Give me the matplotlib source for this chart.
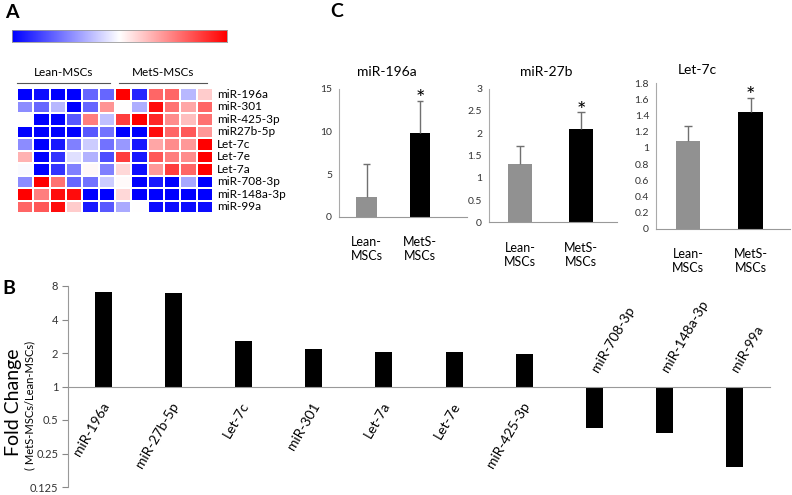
import numpy as np
import matplotlib
matplotlib.use('Agg')
import matplotlib.pyplot as plt
from matplotlib.colors import LinearSegmentedColormap
from matplotlib.lines import Line2D

plt.rcParams['font.family'] = ['Lato', 'DejaVu Sans']

# panel A: heatmap (scaled expression, -1 blue .. +1 red)
mirnas_heat = ['miR-196a', 'miR-301', 'miR-425-3p', 'miR27b-5p', 'Let-7c',
               'Let-7e', 'Let-7a', 'miR-708-3p', 'miR-148a-3p', 'miR-99a']
heat = np.array([
    [-1.0, -0.95, -1.0, -1.0, -0.6, -0.6, 1.0, -0.85, 0.6, 0.6, -0.28, 0.2],
    [-0.45, -0.6, -0.28, -1.0, -0.6, 0.42, 0.0, -0.32, 0.95, 0.55, 0.35, 0.6],
    [0.0, -1.0, -1.0, -0.65, 0.5, -0.25, 0.75, 1.0, 0.85, 0.45, 0.25, 0.55],
    [-1.0, -1.0, -1.0, -1.0, -0.65, -0.55, -1.0, -1.0, 0.95, 0.6, 0.65, 0.4],
    [-0.45, -1.0, -0.9, -0.5, -0.2, -0.55, -0.4, -0.9, 0.35, 0.45, 0.4, 1.0],
    [0.3, -1.0, -0.8, -0.12, -0.3, -0.7, 0.75, -0.9, 0.65, 0.5, 0.45, 1.0],
    [-0.02, -1.0, -0.8, -0.5, 0.03, -0.5, 0.15, -0.95, 0.4, 0.75, 0.6, 1.0],
    [-0.45, 1.0, 0.55, -0.6, -0.55, -0.2, 0.02, -1.0, -0.9, -1.0, -0.35, -1.0],
    [1.0, 0.5, 0.95, 0.95, -1.0, -1.0, 0.15, -1.0, -1.0, -1.0, -1.0, -1.0],
    [0.6, 0.65, 0.95, 0.2, -0.9, -0.65, -0.33, 0.0, -0.95, -0.95, -0.95, -0.95],
])
groups = ['Lean-MSCs', 'MetS-MSCs']

# panel B: fold change MetS/Lean
mirnas_fc = ['miR-196a', 'miR-27b-5p', 'Let-7c', 'miR-301', 'Let-7a', 'Let-7e',
             'miR-425-3p', 'miR-708-3p', 'miR-148a-3p', 'miR-99a']
fold_change = [7.1, 6.9, 2.55, 2.17, 2.04, 2.04, 1.96, 0.42, 0.38, 0.19]
fc_ticks = [0.125, 0.25, 0.5, 1, 2, 4, 8]
fc_ticklabels = ['0.125', '0.25', '0.5', '1', '2', '4', '8']

# panel C: qPCR validation
c_titles = ['miR-196a', 'miR-27b', 'Let-7c']
c_groups = ['Lean-\nMSCs', 'MetS-\nMSCs']
c_means = [[2.4, 9.85], [1.32, 2.09], [1.09, 1.44]]
c_errs = [[3.8, 3.75], [0.39, 0.38], [0.18, 0.18]]
c_ymax = [15, 3, 1.8]
c_ystep = [5, 0.5, 0.2]

W, H = 792, 495
fig = plt.figure(figsize=(W / 100, H / 100), dpi=100)

def box(l, t, r, b):
    return [l / W, 1 - b / H, (r - l) / W, (b - t) / H]

# ---- A ----
cmap = LinearSegmentedColormap.from_list('bwr2', ['#0000ff', '#ffffff', '#ff0000'])
axc = fig.add_axes(box(12, 30, 227, 42))
axc.imshow(np.linspace(-1, 1, 256)[None, :], aspect='auto', cmap=cmap)
axc.set_xticks([]); axc.set_yticks([])
for s in axc.spines.values():
    s.set_color('#9a9a9a'); s.set_linewidth(0.6)

axh = fig.add_axes(box(17, 88, 213, 213))
nr, nc = heat.shape
axh.pcolormesh(np.arange(nc + 1), np.arange(nr + 1), heat, cmap=cmap, vmin=-1, vmax=1,
               edgecolors='white', linewidth=1.1)
axh.set_xlim(0, nc); axh.set_ylim(nr, 0)
axh.axis('off')
for i, name in enumerate(mirnas_heat):
    axh.text(nc + 0.25, i + 0.5, name, va='center', ha='left', fontsize=8.5)
for (x0, x1), g in zip([(0, 5.7), (6.25, 11.63)], groups):
    axh.add_line(Line2D([x0, x1], [-0.4, -0.4], color='#555555', lw=0.8, clip_on=False))
    axh.text((x0 + x1) / 2, -0.8, g, ha='center', va='bottom', fontsize=8.5)

# ---- B ----
axb = fig.add_axes(box(68, 286, 770, 487))
xb = np.arange(len(fold_change)) + 0.5
hb = [v - 1 for v in fold_change]
axb.bar(xb, hb, bottom=1, width=0.24, color='black')
axb.set_yscale('log', base=2)
axb.set_ylim(0.125, 8)
axb.set_xlim(0, len(fold_change))
axb.set_yticks(fc_ticks)
axb.set_yticklabels(fc_ticklabels)
axb.minorticks_off()
axb.tick_params(axis='y', labelsize=8, length=4, width=0.8, color='#888888', labelcolor='#333333', pad=3)
axb.set_xticks([])
axb.spines['top'].set_visible(False)
axb.spines['right'].set_visible(False)
axb.spines['bottom'].set_position(('data', 1))
axb.spines['left'].set_color('#999999')
axb.spines['bottom'].set_color('#999999')
for x, v, name in zip(xb, fold_change, mirnas_fc):
    if v >= 1:
        axb.annotate(name, xy=(x, 1), xytext=(2, -12), textcoords='offset points',
                     ha='right', va='center', rotation=60, rotation_mode='anchor', fontsize=10)
    else:
        axb.annotate(name, xy=(x, 1), xytext=(0, 11), textcoords='offset points',
                     ha='left', va='center', rotation=60, rotation_mode='anchor', fontsize=10)
fig.text(13 / W, 1 - 402 / H, 'Fold Change', rotation=90, ha='center', va='center', fontsize=14)
fig.text(30 / W, 1 - 405 / H, '( MetS-MSCs/Lean-MSCs)', rotation=90, ha='center', va='center', fontsize=8)

# ---- C ----
c_boxes = [(339, 89, 467, 217), (489, 88.7, 617, 222.3), (656, 83.3, 790, 228.7)]
c_xl = [(-0.514, 1.878), (-0.508, 1.59), (-0.512, 1.63)]
c_title_pos = [(387, 72), (546, 72), (697, 70)]
for k in range(3):
    ax = fig.add_axes(box(*c_boxes[k]))
    m, e = c_means[k], c_errs[k]
    xs = np.arange(2)
    ax.bar(xs, m, width=0.39, color=['#919191', 'black'])
    tops = np.array(m) + np.array(e)
    ax.vlines(xs, m, tops, color='#707070', lw=1)
    ax.hlines(tops, xs - 0.06, xs + 0.06, color='#707070', lw=1)
    ax.annotate('*', xy=(1, tops[1]), xytext=(0, -6), textcoords='offset points',
                ha='center', va='bottom', fontsize=16)
    ax.set_xlim(*c_xl[k])
    ax.set_ylim(0, c_ymax[k])
    ax.set_yticks(np.arange(0, c_ymax[k] + 1e-9, c_ystep[k]))
    if c_ystep[k] < 1:
        ax.set_yticklabels([('%g' % v) for v in ax.get_yticks()])
    ax.set_xticks(xs)
    ax.set_xticklabels(c_groups, fontsize=9)
    ax.tick_params(axis='x', length=0, pad=14)
    ax.tick_params(axis='y', length=0, labelsize=7.5, labelcolor='#333333', pad=5)
    ax.spines['top'].set_visible(False)
    ax.spines['right'].set_visible(False)
    ax.spines['left'].set_color('#aaaaaa')
    ax.spines['bottom'].set_color('#999999')
    tx, ty = c_title_pos[k]
    fig.text(tx / W, 1 - ty / H, c_titles[k], ha='center', va='center', fontsize=10)

fig.text(5 / W, 1 - 4 / H, 'A', fontsize=14, fontweight='bold', va='top')
fig.text(2 / W, 1 - 280 / H, 'B', fontsize=14, fontweight='bold', va='top')
fig.text(330 / W, 1 - 3 / H, 'C', fontsize=14, fontweight='bold', va='top')

fig.savefig('out.png', dpi=100)
